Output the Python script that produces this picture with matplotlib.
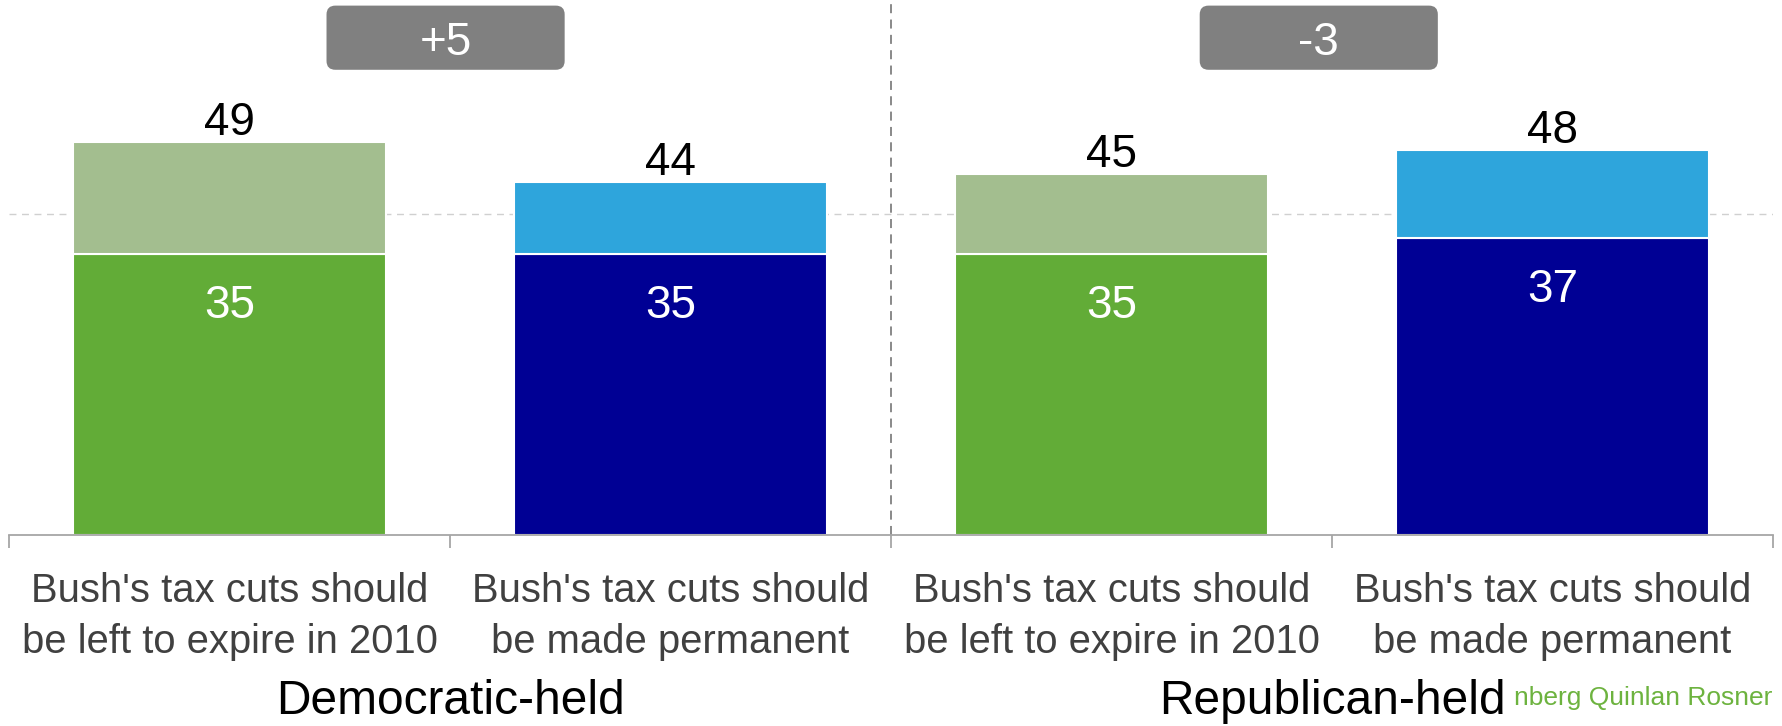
import matplotlib
matplotlib.use("Agg")
import matplotlib.pyplot as plt
from matplotlib.patches import FancyBboxPatch

plt.rcParams['font.family'] = ['Liberation Sans', 'DejaVu Sans']

# data
groups = ["Democratic-held", "Republican-held"]
categories = ["Bush's tax cuts should\nbe left to expire in 2010",
              "Bush's tax cuts should\nbe made permanent",
              "Bush's tax cuts should\nbe left to expire in 2010",
              "Bush's tax cuts should\nbe made permanent"]
strong = [35, 35, 35, 37]
total = [49, 44, 45, 48]
source = "nberg Quinlan Rosner"

dark = ['#62ac37', '#000094', '#62ac37', '#000094']
light = ['#a3be8f', '#2ea5dc', '#a3be8f', '#2ea5dc']

fig = plt.figure(figsize=(17.82, 7.26), dpi=100)
ax = fig.add_axes([9 / 1782, 1 - 535 / 726, 1764 / 1782, 535 / 726])

x = list(range(len(categories)))
w = 0.71
rest = [t - s for t, s in zip(total, strong)]
ax.bar(x, strong, w, color=dark, edgecolor='white', linewidth=1.5, zorder=2)
ax.bar(x, rest, w, bottom=strong, color=light, edgecolor='white', linewidth=1.5, zorder=2)

for i in x:
    ax.annotate(str(total[i]), (i, total[i]), xytext=(0, 5), textcoords='offset points',
                ha='center', va='baseline', fontsize=33, color='black', zorder=3)
    ax.annotate(str(strong[i]), (i, strong[i]), xytext=(0, -46), textcoords='offset points',
                ha='center', va='baseline', fontsize=33, color='white', zorder=3)

ax.set_xlim(-0.5, 3.5)
ax.set_ylim(0, 66.7)

ax.axhline(40, color='#d0d0d0', ls=(0, (5, 4)), lw=1, zorder=0)
ax.axvline(1.5, color='#808080', ls=(0, (5, 3.5)), lw=1.3, zorder=1)

for sp in ['top', 'right', 'left']:
    ax.spines[sp].set_visible(False)
ax.spines['bottom'].set_color('#a6a6a6')
ax.spines['bottom'].set_linewidth(1.3)
ax.set_yticks([])

ax.set_xticks(x)
ax.set_xticklabels(categories, fontsize=28.8, color='#404040', linespacing=1.41)
ax.tick_params(axis='x', which='major', length=0, pad=27)
ax.set_xticks([-0.5, 0.5, 1.5, 2.5, 3.5], minor=True)
ax.tick_params(axis='x', which='minor', length=9, width=1.3, color='#a6a6a6', direction='out')

# difference boxes
bw, bh = 0.54, 8.0
shift = [-0.01, -0.03]
for k, gname in enumerate(groups):
    a, b = 2 * k, 2 * k + 1
    d = total[a] - total[b]
    cx = (a + b) / 2 + shift[k]
    box = FancyBboxPatch((cx - bw / 2, 58.0), bw, bh,
                         boxstyle="round,pad=0,rounding_size=0.02",
                         mutation_aspect=55, fc='#808080', ec='none',
                         clip_on=False, zorder=3)
    ax.add_patch(box)
    ax.text(cx, 58.0 + bh / 2, f"{d:+d}", ha='center', va='center_baseline',
            fontsize=33, color='white', zorder=4)
    ax.text((a + b) / 2, -0.312, gname, transform=ax.get_xaxis_transform(),
            ha='center', va='center', fontsize=34.5, color='black')

ax.text(0.9995, -0.305, source, transform=ax.transAxes, ha='right', va='center',
        fontsize=19, color='#6db33f')

fig.savefig('out.png', dpi=100)
